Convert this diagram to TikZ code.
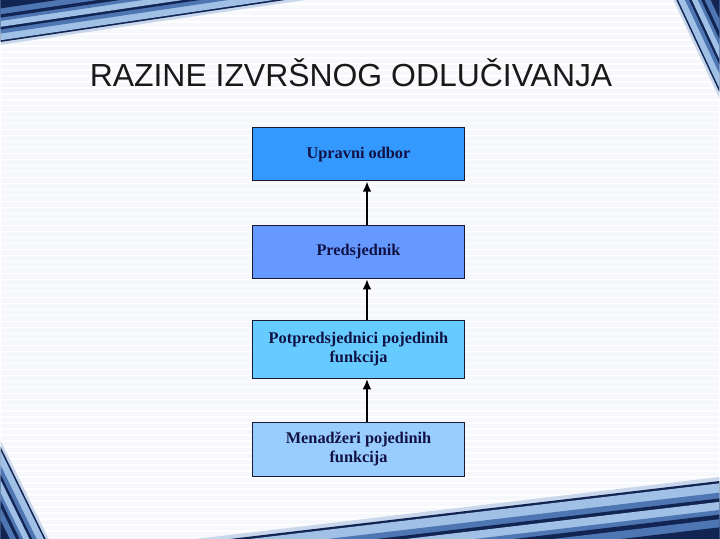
\documentclass[tikz,border=0pt]{standalone}
\usepackage{fontspec}
\setmainfont{Liberation Serif}
\newfontfamily\naslovfont{Liberation Sans}
\usetikzlibrary{positioning,calc,arrows.meta}

\definecolor{razinaA}{RGB}{51,153,255}
\definecolor{razinaB}{RGB}{102,153,255}
\definecolor{razinaC}{RGB}{102,204,255}
\definecolor{razinaD}{RGB}{153,204,255}
\definecolor{tekst}{RGB}{17,17,68}
\definecolor{rub}{RGB}{25,25,50}
\definecolor{pozadina}{RGB}{246,248,251}
\definecolor{sjaj}{RGB}{200,215,236}
\definecolor{tamna}{RGB}{18,36,82}
\definecolor{svijetla}{RGB}{160,192,230}
\definecolor{srednja}{RGB}{78,118,178}

% blue streak in a corner: corner, end on one side, end on the other
\newcommand\pruga[3]{%
  \foreach \s/\c in {1.07/sjaj,1/tamna,0.96/svijetla,0.8/srednja,0.7/tamna,0.64/svijetla,0.5/srednja,0.42/tamna,0.34/srednja,0.2/tamna}
  {
    \fill[\c] (#1) -- ($(#1)!\s!(#2)$) -- ($(#1)!\s!(#3)$) -- cycle;
  }
}

\begin{document}
\begin{tikzpicture}[x=0.02cm,y=-0.02cm,>={Latex[length=6pt,width=5pt]},
  razina/.style={draw=rub,line width=0.6pt,minimum width=4.26cm,align=center,
    text=tekst,font=\bfseries\fontsize{9.3}{10.8}\selectfont},
  veza/.style={->,line width=1.2pt,black}]

\fill[pozadina] (0,0) rectangle (720,540);
\foreach \y in {4,10,...,536}
{
    \draw[white,line width=0.8pt] (0,\y) -- (720,\y);
}

\pruga{0,0}{285,0}{0,42}
\pruga{720,0}{677,0}{720,92}
\pruga{0,540}{0,448}{45,540}
\pruga{720,540}{230,540}{720,482}

\node[text=black!90,font=\naslovfont\fontsize{18.2}{21}\selectfont] (naslov) at (351,73) {RAZINE IZVRŠNOG ODLUČIVANJA};

\node[razina,fill=razinaA,minimum height=1.06cm] (upravni) at (358.5,154.5) {Upravni odbor};
\node[razina,fill=razinaB,minimum height=1.06cm] (predsjednik) at (358.5,252.5) {Predsjednik};
\node[razina,fill=razinaC,minimum height=1.16cm] (potpredsjednici) at (358.5,350) {Potpredsjednici pojedinih\\funkcija};
\node[razina,fill=razinaD,minimum height=1.08cm] (menadzeri) at (358.5,450) {Menadžeri pojedinih\\funkcija};

\draw[veza] ([xshift=0.17cm]predsjednik.north) -- ([xshift=0.17cm]upravni.south);
\draw[veza] ([xshift=0.17cm]potpredsjednici.north) -- ([xshift=0.17cm]predsjednik.south);
\draw[veza] ([xshift=0.17cm]menadzeri.north) -- ([xshift=0.17cm]potpredsjednici.south);
\end{tikzpicture}
\end{document}
